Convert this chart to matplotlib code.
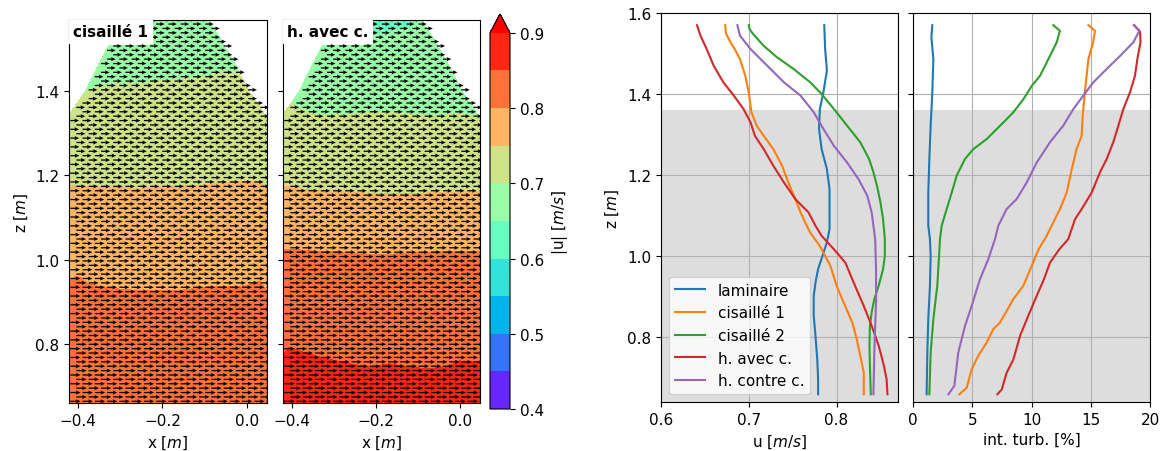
import numpy as np
import matplotlib
matplotlib.use("Agg")
import matplotlib.pyplot as plt
from matplotlib.path import Path

plt.rcParams["font.size"] = 11

# ---------------------------------------------------------------------------
# Velocity-magnitude maps: heights of the iso-|u| lines along x
# ---------------------------------------------------------------------------
levels = np.arange(0.40, 0.9001, 0.05)

# cisaillé 1
c1_bx = [-0.421, -0.40, -0.38, -0.35, -0.30, -0.25, -0.20, -0.15, -0.10, -0.05, 0.0, 0.03, 0.047]
c1_z080 = [0.950, 0.961, 0.945, 0.937, 0.930, 0.926, 0.926, 0.928, 0.935, 0.936, 0.938, 0.949, 0.925]
c1_z075 = [1.175, 1.175, 1.174, 1.172, 1.170, 1.169, 1.172, 1.175, 1.177, 1.182, 1.187, 1.183, 1.172]
c1_z070 = [1.340, 1.375, 1.398, 1.410, 1.418, 1.416, 1.425, 1.428, 1.432, 1.447, 1.436, 1.400, 1.360]
c1_bottom, c1_top = 0.84, 0.66

# h. avec c.
c2_bx = [-0.421, -0.405, -0.38, -0.334, -0.263, -0.215, -0.168, -0.121, -0.073, -0.026, -0.002, 0.033, 0.047]
c2_z085 = [0.775, 0.793, 0.783, 0.769, 0.753, 0.745, 0.753, 0.745, 0.741, 0.748, 0.760, 0.757, 0.755]
c2_z080 = [1.025, 1.025, 1.023, 1.020, 1.017, 1.013, 1.013, 1.015, 1.018, 1.019, 1.020, 1.020, 1.020]
c2_z075 = [1.172, 1.172, 1.168, 1.163, 1.160, 1.157, 1.156, 1.157, 1.158, 1.160, 1.160, 1.162, 1.162]
c2_z070 = [1.380, 1.374, 1.357, 1.341, 1.345, 1.348, 1.350, 1.346, 1.341, 1.343, 1.345, 1.341, 1.341]
c2_z065 = [1.640, 1.640, 1.640, 1.620, 1.560, 1.530, 1.540, 1.550, 1.580, 1.620, 1.640, 1.640, 1.640]
c2_bottom, c2_top = 0.875, 0.64

# measurement domain outline (x, z)
dom_x = [-0.43, 0.06, 0.06, 0.047, 0.035, 0.005, -0.025, -0.053, -0.078, -0.087,
         -0.087, -0.23, -0.23, -0.328, -0.353, -0.383, -0.421, -0.43]
dom_z = [0.60, 0.60, 1.334, 1.334, 1.357, 1.398, 1.459, 1.507, 1.547, 1.565,
         1.60, 1.60, 1.507, 1.507, 1.46, 1.398, 1.345, 1.345]

# ---------------------------------------------------------------------------
# Vertical profiles
# ---------------------------------------------------------------------------
names = ["laminaire", "cisaillé 1", "cisaillé 2", "h. avec c.", "h. contre c."]
colors = ["tab:blue", "tab:orange", "tab:green", "tab:red", "tab:purple"]

lam_z = [1.570, 1.511, 1.458, 1.404, 1.363, 1.314, 1.264, 1.215, 1.165, 1.116, 1.067,
         1.034, 1.001, 0.968, 0.935, 0.902, 0.853, 0.803, 0.746, 0.696, 0.659]
lam_u = [0.786, 0.787, 0.789, 0.785, 0.781, 0.780, 0.783, 0.789, 0.792, 0.792, 0.792,
         0.789, 0.784, 0.779, 0.776, 0.774, 0.774, 0.776, 0.778, 0.779, 0.779]

cis1_z = [1.570, 1.550, 1.528, 1.511, 1.486, 1.445, 1.404, 1.355, 1.322, 1.297, 1.264, 1.223,
          1.182, 1.141, 1.108, 1.075, 1.058, 1.025, 0.976, 0.927, 0.886, 0.836, 0.795, 0.754,
          0.713, 0.659]
cis1_u = [0.673, 0.674, 0.679, 0.684, 0.690, 0.696, 0.700, 0.703, 0.709, 0.717, 0.728, 0.738,
          0.745, 0.753, 0.759, 0.766, 0.770, 0.781, 0.793, 0.800, 0.808, 0.818, 0.823, 0.827,
          0.831, 0.831]

cis2_z = [1.570, 1.560, 1.548, 1.519, 1.491, 1.462, 1.429, 1.400, 1.363, 1.322, 1.281, 1.240,
          1.207, 1.174, 1.133, 1.091, 1.042, 1.001, 0.968, 0.927, 0.894, 0.861, 0.828, 0.779,
          0.729, 0.659]
cis2_u = [0.700, 0.701, 0.705, 0.717, 0.732, 0.751, 0.770, 0.783, 0.797, 0.812, 0.827, 0.837,
          0.842, 0.846, 0.850, 0.853, 0.855, 0.855, 0.853, 0.848, 0.843, 0.840, 0.838, 0.8375,
          0.838, 0.839]

hav_z = [1.570, 1.544, 1.511, 1.470, 1.429, 1.396, 1.363, 1.330, 1.297, 1.264, 1.223, 1.182,
         1.141, 1.108, 1.075, 1.050, 1.017, 0.984, 0.927, 0.877, 0.828, 0.779, 0.729, 0.696,
         0.659]
hav_u = [0.641, 0.645, 0.652, 0.660, 0.671, 0.683, 0.694, 0.702, 0.707, 0.717, 0.728, 0.740,
         0.753, 0.768, 0.776, 0.783, 0.797, 0.810, 0.821, 0.831, 0.840, 0.848, 0.854, 0.857,
         0.858]

hco_z = [1.570, 1.544, 1.511, 1.470, 1.429, 1.396, 1.355, 1.314, 1.272, 1.231, 1.190, 1.149,
         1.108, 1.075, 1.042, 0.968, 0.886, 0.828, 0.762, 0.659]
hco_u = [0.687, 0.690, 0.702, 0.721, 0.740, 0.759, 0.774, 0.785, 0.797, 0.812, 0.825, 0.835,
         0.840, 0.842, 0.844, 0.845, 0.845, 0.844, 0.843, 0.842]

# turbulence intensity [%]
lam_tz = [1.570, 1.540, 1.486, 1.404, 1.322, 1.240, 1.157, 1.075, 1.042, 1.001, 0.927, 0.845,
          0.762, 0.659]
lam_t = [1.63, 1.55, 1.72, 1.63, 1.49, 1.38, 1.29, 1.29, 1.43, 1.49, 1.43, 1.29, 1.21, 1.15]

cis1_tz = [1.570, 1.556, 1.528, 1.486, 1.404, 1.346, 1.297, 1.264, 1.215, 1.157, 1.116, 1.075,
           1.050, 1.017, 0.976, 0.927, 0.894, 0.836, 0.820, 0.787, 0.754, 0.721, 0.675, 0.659]
cis1_t = [14.8, 15.36, 15.2, 14.8, 14.5, 14.32, 14.23, 13.8, 13.4, 12.97, 12.4, 11.7,
          11.28, 10.6, 10.02, 9.31, 8.47, 7.34, 6.78, 6.22, 5.51, 4.95, 4.53, 3.91]

cis2_tz = [1.570, 1.556, 1.528, 1.486, 1.445, 1.420, 1.387, 1.355, 1.330, 1.289, 1.264, 1.240,
           1.199, 1.157, 1.116, 1.075, 1.042, 1.001, 0.927, 0.845, 0.762, 0.659]
cis2_t = [11.84, 12.4, 12.13, 11.42, 10.72, 10.02, 9.31, 8.47, 7.63, 6.22, 5.09, 4.39,
          3.69, 3.27, 2.84, 2.42, 2.28, 2.2, 2.05, 1.72, 1.49, 1.38]

hav_tz = [1.570, 1.554, 1.528, 1.486, 1.445, 1.404, 1.363, 1.322, 1.281, 1.240, 1.207, 1.157,
          1.116, 1.091, 1.042, 1.017, 0.984, 0.943, 0.902, 0.853, 0.803, 0.745, 0.712, 0.671,
          0.659]
hav_t = [18.65, 19.16, 19.2, 18.93, 18.73, 18.31, 17.75, 17.33, 16.9, 16.35, 15.78, 15.08,
         14.23, 13.67, 13.1, 12.35, 11.56, 11.05, 10.44, 9.73, 9.03, 8.47, 7.9, 7.49, 7.12]

hco_tz = [1.570, 1.556, 1.528, 1.494, 1.462, 1.429, 1.396, 1.363, 1.322, 1.281, 1.231, 1.182,
          1.141, 1.116, 1.075, 1.042, 0.993, 0.943, 0.877, 0.828, 0.762, 0.680, 0.659]
hco_t = [18.65, 19.1, 18.6, 17.47, 16.35, 15.22, 14.37, 13.53, 12.68, 11.56, 10.44, 9.6,
         8.75, 7.9, 7.2, 6.92, 6.36, 5.65, 4.95, 4.39, 3.82, 3.49, 2.99]

canal_top = 1.36  # top of the shaded zone


def field(X, Z, bx, bounds, vals_bounds, v_bottom, v_top):
    """Piecewise-linear |u| between the iso-lines, column by column."""
    knots = [np.full_like(X, 0.60)]
    vals = [v_bottom]
    for zb, v in zip(bounds, vals_bounds):
        knots.append(np.interp(X, bx, zb))
        vals.append(v)
    knots.append(np.full_like(X, 1.70))
    vals.append(v_top)
    U = np.full_like(X, np.nan)
    for i in range(len(knots) - 1):
        k0, k1 = knots[i], knots[i + 1]
        sel = (Z >= k0) & (Z < k1)
        U[sel] = vals[i] + (Z[sel] - k0[sel]) / (k1[sel] - k0[sel]) * (vals[i + 1] - vals[i])
    return U


domain = Path(np.column_stack([dom_x, dom_z]))
xlim_map = (-0.421, 0.047)
zlim_map = (0.66, 1.568)

gx, gz = np.meshgrid(np.linspace(-0.421, 0.047, 300), np.linspace(0.655, 1.575, 500))
inside = domain.contains_points(np.column_stack([gx.ravel(), gz.ravel()])).reshape(gx.shape)

# staggered arrow grid
rows = np.arange(0.664, 1.575, 0.0104)
qx_list, qz_list = [], []
for j, zr in enumerate(rows):
    xs = np.arange(-0.418 + (0.0145 if j % 2 else 0.0), 0.047, 0.029)
    qx_list.append(xs)
    qz_list.append(np.full_like(xs, zr))
qx = np.concatenate(qx_list)
qz = np.concatenate(qz_list)
qin = domain.contains_points(np.column_stack([qx, qz]))
qx, qz = qx[qin], qz[qin]

maps = [
    ("cisaillé 1", c1_bx, [c1_z080, c1_z075, c1_z070], [0.80, 0.75, 0.70], c1_bottom, c1_top),
    ("h. avec c.", c2_bx, [c2_z085, c2_z080, c2_z075, c2_z070, c2_z065],
     [0.85, 0.80, 0.75, 0.70, 0.65], c2_bottom, c2_top),
]

fig = plt.figure(figsize=(11.63, 4.52), dpi=100)
W, H = 1163.0, 452.0


def box(l, r, t, b):
    return [l / W, (H - b) / H, (r - l) / W, (b - t) / H]


ax1 = fig.add_axes(box(69, 267, 21, 404))
ax2 = fig.add_axes(box(283, 480, 21, 404), sharey=ax1)
cax = fig.add_axes(box(490, 510, 15, 410))
ax3 = fig.add_axes(box(661, 898, 14, 403))
ax4 = fig.add_axes(box(913, 1150, 14, 403), sharey=ax3)

cf = None
for ax, (title, bx, bnds, bvals, vb, vt) in zip([ax1, ax2], maps):
    U = field(gx, gz, bx, bnds, bvals, vb, vt)
    Um = np.ma.masked_where(~inside, U)
    cf = ax.contourf(gx, gz, Um, levels=levels, cmap="rainbow", extend="max", zorder=1)
    qu = field(qx, qz, bx, bnds, bvals, vb, vt)
    ax.quiver(qx, qz, qu, np.zeros_like(qu), angles="xy", scale_units="xy", scale=34,
              width=0.0065, headwidth=3.2, headlength=3.6, headaxislength=3.2,
              color="k", zorder=3)
    ax.set_xlim(*xlim_map)
    ax.set_ylim(*zlim_map)
    ax.set_xticks([-0.4, -0.2, 0.0])
    ax.set_yticks([0.8, 1.0, 1.2, 1.4])
    ax.set_xlabel("x [$m$]")
    ax.annotate(title, xy=(0, 1), xycoords="axes fraction", xytext=(3, -3),
                textcoords="offset points", ha="left", va="top", fontweight="bold",
                bbox=dict(boxstyle="square,pad=0.3", fc="white", ec="none"), zorder=10)

ax1.set_ylabel("z [$m$]")
ax2.tick_params(labelleft=False)

cb = fig.colorbar(cf, cax=cax, ticks=[0.4, 0.5, 0.6, 0.7, 0.8, 0.9])
cb.set_label("|u| [$m/s$]")

u_series = [(lam_z, lam_u), (cis1_z, cis1_u), (cis2_z, cis2_u), (hav_z, hav_u), (hco_z, hco_u)]
t_series = [(lam_tz, lam_t), (cis1_tz, cis1_t), (cis2_tz, cis2_t), (hav_tz, hav_t), (hco_tz, hco_t)]

for ax in (ax3, ax4):
    ax.axhspan(0.6, canal_top, color="#dddddd", lw=0, zorder=0.5)
    ax.grid(True, color="#b0b0b0", lw=0.8)

for (z, u), name, c in zip(u_series, names, colors):
    ax3.plot(u, z, color=c, label=name)
for (z, t), c in zip(t_series, colors):
    ax4.plot(t, z, color=c)

ax3.set_xlim(0.6, 0.87)
ax3.set_xticks([0.6, 0.7, 0.8])
ax3.set_ylim(0.64, 1.6)
ax3.set_yticks([0.8, 1.0, 1.2, 1.4, 1.6])
ax3.set_xlabel("u [$m/s$]")
ax3.set_ylabel("z [$m$]")
ax3.legend(loc="lower left")

ax4.set_xlim(0, 20)
ax4.set_xticks([0, 5, 10, 15, 20])
ax4.set_xlabel("int. turb. [%]")
ax4.tick_params(labelleft=False)

fig.savefig("out.png", dpi=100)
